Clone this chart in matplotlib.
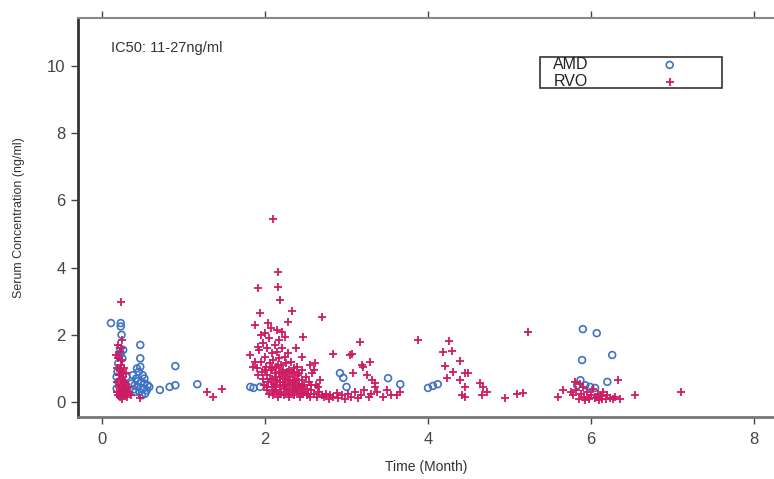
import matplotlib.pyplot as plt
from matplotlib.patches import Rectangle

plt.rcParams['font.family'] = ['Liberation Sans', 'DejaVu Sans']

# AMD (blue circles), (time in months, serum conc.)
amd_early = [(0.11, 2.35), (0.23, 2.35), (0.23, 2.25), (0.24, 2.0), (0.22, 1.6), (0.23, 1.45),
             (0.25, 1.3), (0.2, 1.15), (0.26, 1.55), (0.19, 0.9), (0.2, 0.6), (0.18, 0.4),
             (0.27, 0.35), (0.29, 0.5), (0.28, 0.25), (0.22, 0.2), (0.3, 0.75), (0.31, 0.3),
             (0.21, 1.35), (0.18, 0.75)]
amd_second = [(0.47, 1.7), (0.47, 1.3), (0.47, 1.05), (0.45, 0.9), (0.5, 0.8), (0.42, 0.7),
              (0.48, 0.6), (0.52, 0.55), (0.4, 0.5), (0.44, 0.45), (0.5, 0.4), (0.55, 0.35),
              (0.46, 0.3), (0.53, 0.25), (0.41, 0.3), (0.58, 0.45), (0.38, 0.8), (0.36, 0.55),
              (0.43, 1.0), (0.49, 0.2), (0.52, 0.7), (0.44, 0.62), (0.56, 0.5), (0.39, 0.38)]
amd_late = [(0.71, 0.36), (0.83, 0.45), (0.9, 0.5), (0.9, 1.07), (1.17, 0.53), (1.82, 0.45),
            (1.86, 0.42), (1.94, 0.45), (2.92, 0.86), (2.96, 0.72), (3.0, 0.45), (3.51, 0.71),
            (3.66, 0.53), (4.0, 0.42), (4.06, 0.48), (4.12, 0.53), (5.9, 2.17), (6.07, 2.05),
            (5.89, 1.25), (6.26, 1.4), (6.2, 0.6), (5.93, 0.5), (5.99, 0.45), (5.83, 0.5),
            (6.05, 0.42), (5.87, 0.65)]

# RVO (magenta plus)
rvo_early = [(0.18, 0.3), (0.19, 0.6), (0.19, 1.0), (0.2, 0.2), (0.2, 1.3), (0.21, 0.45),
             (0.21, 0.8), (0.22, 1.5), (0.22, 0.15), (0.23, 0.65), (0.23, 1.1), (0.24, 0.35),
             (0.24, 0.9), (0.25, 0.5), (0.25, 1.25), (0.26, 0.25), (0.26, 0.75), (0.27, 1.0),
             (0.27, 0.4), (0.28, 0.6), (0.28, 0.2), (0.29, 0.85), (0.3, 0.3), (0.3, 0.55),
             (0.31, 0.15), (0.32, 0.45), (0.2, 1.7), (0.23, 1.6), (0.17, 1.4), (0.22, 0.95),
             (0.25, 0.1), (0.33, 0.3), (0.35, 0.2), (0.23, 2.98), (0.24, 1.84), (0.47, 0.12),
             (1.29, 0.3), (1.36, 0.15), (1.47, 0.38)]
rvo_month2 = [(2.1, 5.45), (2.16, 3.87), (1.91, 3.39), (2.16, 3.42), (2.18, 3.04), (1.94, 2.65),
              (2.33, 2.71), (2.7, 2.53), (1.88, 2.29), (2.04, 2.35), (2.15, 2.14), (2.28, 2.38),
              (2.21, 2.08), (2.47, 1.93), (1.82, 1.4), (2.0, 2.05), (1.91, 1.64), (1.85, 1.04),
              (2.61, 1.16),
              (1.93, 1.55), (1.95, 1.2), (1.96, 0.9), (1.97, 0.7), (1.98, 1.75), (1.99, 0.5),
              (2.0, 1.35), (2.01, 1.05), (2.02, 0.8), (2.02, 0.35), (2.03, 1.6), (2.04, 0.6),
              (2.05, 1.9), (2.05, 0.25), (2.06, 1.15), (2.07, 0.95), (2.08, 0.45), (2.08, 1.45),
              (2.09, 0.7), (2.1, 0.2), (2.1, 1.25), (2.11, 0.55), (2.12, 1.7), (2.12, 0.85),
              (2.13, 0.35), (2.14, 1.05), (2.15, 0.65), (2.15, 1.5), (2.16, 0.15), (2.17, 0.9),
              (2.17, 1.3), (2.18, 0.45), (2.19, 0.75), (2.2, 1.1), (2.2, 0.3), (2.21, 1.6),
              (2.22, 0.6), (2.22, 0.95), (2.23, 0.2), (2.24, 1.35), (2.25, 0.5), (2.25, 0.8),
              (2.26, 1.15), (2.27, 0.35), (2.28, 0.65), (2.28, 1.45), (2.29, 0.95), (2.3, 0.15),
              (2.3, 0.5), (2.31, 0.75), (2.32, 1.2), (2.33, 0.3), (2.34, 0.6), (2.35, 0.9),
              (2.35, 1.0), (2.36, 0.2), (2.37, 0.45), (2.38, 0.7), (2.39, 1.05), (2.4, 0.3),
              (2.41, 0.55), (2.42, 0.85), (2.43, 0.15), (2.44, 0.4), (2.45, 0.65), (2.46, 0.95),
              (2.47, 0.25), (2.48, 0.5), (2.5, 0.75), (2.51, 0.2), (2.52, 0.4), (2.54, 0.6),
              (2.55, 0.15), (2.57, 0.35), (2.58, 0.85), (2.6, 0.25), (2.62, 0.5), (2.64, 0.15),
              (2.66, 0.3), (2.68, 0.65),
              (2.0, 0.95), (2.03, 0.45), (2.06, 0.7), (2.09, 1.0), (2.11, 0.3), (2.13, 0.75),
              (2.14, 0.5), (2.16, 1.1), (2.18, 0.6), (2.19, 0.25), (2.21, 0.85), (2.23, 0.5),
              (2.24, 0.7), (2.26, 0.4), (2.27, 0.9), (2.29, 0.25), (2.31, 0.55), (2.33, 0.85),
              (2.34, 0.4), (2.36, 0.65), (2.38, 0.35), (2.4, 0.8), (2.42, 0.5), (2.44, 0.25),
              (2.46, 0.45), (2.49, 0.3), (2.53, 0.25), (2.56, 0.5), (1.9, 1.0), (1.92, 0.8),
              (1.88, 1.2), (1.95, 2.0), (2.07, 2.2), (2.17, 1.85), (2.25, 1.95), (2.38, 1.6),
              (2.45, 1.35), (2.55, 1.1), (2.6, 0.95), (2.65, 0.45), (2.7, 0.2)]
rvo_month3 = [(2.72, 0.15), (2.75, 0.25), (2.78, 0.1), (2.8, 0.2), (2.84, 0.15), (2.88, 0.28),
              (2.9, 0.12), (2.95, 0.2), (2.98, 0.1), (3.02, 0.25), (3.06, 0.15), (3.1, 0.3),
              (3.14, 0.12), (3.18, 0.2), (3.22, 0.35), (3.27, 0.15), (3.3, 0.25), (3.38, 0.3),
              (3.45, 0.15), (3.5, 0.35), (3.55, 0.2), (3.66, 0.3), (3.62, 0.21),
              (3.17, 1.79), (3.04, 1.4), (2.83, 1.43), (3.2, 1.04), (3.29, 1.19), (3.35, 0.56),
              (3.08, 0.86), (3.07, 1.43), (3.19, 1.1), (3.25, 0.8), (3.31, 0.65), (3.35, 0.45)]
rvo_month4 = [(3.88, 1.85), (4.26, 1.82), (4.18, 1.49), (4.29, 1.52), (4.39, 1.22), (4.21, 1.07),
              (4.31, 0.89), (4.45, 0.86), (4.49, 0.86), (4.23, 0.71), (4.39, 0.65), (4.45, 0.45),
              (4.42, 0.21), (4.45, 0.15), (4.64, 0.56), (4.68, 0.45), (4.72, 0.3), (4.66, 0.21),
              (4.94, 0.12), (5.09, 0.24), (5.17, 0.27), (5.23, 2.08)]
rvo_month6 = [(5.6, 0.15), (5.66, 0.36), (5.8, 0.6), (5.78, 0.2), (5.82, 0.35), (5.85, 0.1),
              (5.88, 0.25), (5.9, 0.45), (5.92, 0.15), (5.95, 0.3), (5.97, 0.08), (6.0, 0.2),
              (6.02, 0.38), (6.05, 0.12), (6.08, 0.25), (6.1, 0.05), (6.12, 0.18), (6.15, 0.3),
              (6.18, 0.1), (6.2, 0.22), (6.23, 0.12), (6.27, 0.08), (6.3, 0.15), (6.33, 0.65),
              (6.36, 0.1), (6.54, 0.21), (7.1, 0.3), (5.86, 0.55), (5.75, 0.3), (6.07, 0.15),
              (5.98, 0.12), (6.13, 0.08), (5.93, 0.05)]

amd = amd_early + amd_second + amd_late
rvo = rvo_early + rvo_month2 + rvo_month3 + rvo_month4 + rvo_month6

blue = '#3f72c2'
pink = '#cf1b62'

fig = plt.figure(figsize=(7.74, 4.79), dpi=100)
ax = fig.add_axes([0.1008, 0.1294, 0.8992, 0.833])

ax.scatter([p[0] for p in amd], [p[1] for p in amd], s=24, facecolors='none',
           edgecolors=blue, linewidths=1.2, label='AMD', zorder=2)
ax.scatter([p[0] for p in rvo], [p[1] for p in rvo], s=32, marker='+',
           color=pink, linewidths=1.3, label='RVO', zorder=3)

ax.set_xlim(-0.294, 8.245)
ax.set_ylim(-0.446, 11.43)
ax.set_xticks([0, 2, 4, 6, 8])
ax.set_yticks([0, 2, 4, 6, 8, 10])

ax.spines['right'].set_visible(False)
ax.spines['left'].set_linewidth(2.0)
ax.spines['left'].set_color('#333333')
ax.spines['bottom'].set_linewidth(2.0)
ax.spines['bottom'].set_color('#777777')
ax.spines['top'].set_linewidth(1.5)
ax.spines['top'].set_color('#888888')

ax.tick_params(axis='x', which='both', top=True, direction='out', length=5, width=1,
               color='#444444', labelsize=12, labelcolor='#444444', pad=6)
ax.tick_params(axis='y', direction='out', length=5, width=1, color='#444444',
               labelsize=12, labelcolor='#444444', pad=4)

ax.set_xlabel('Time (Month)', fontsize=10, color='#333333', labelpad=9)
ax.set_ylabel('Serum Concentration (ng/ml)', fontsize=9, color='#333333', labelpad=16)

ax.text(0.048, 0.925, 'IC50: 11-27ng/ml', transform=ax.transAxes, fontsize=10.5,
        color='#333333', va='center', ha='left')

ax.add_patch(Rectangle((0.664, 0.825), 0.261, 0.077, transform=ax.transAxes,
                       fill=False, edgecolor='#333333', linewidth=1.2, zorder=5))
leg = ax.legend(loc='upper left', bbox_to_anchor=(0.666, 0.93), frameon=False,
                markerfirst=False, handletextpad=4.6, handlelength=1.0,
                labelspacing=0.12, borderpad=0.2, fontsize=11.5)
for t in leg.get_texts():
    t.set_color('#222222')

fig.savefig('out.png', dpi=100)
